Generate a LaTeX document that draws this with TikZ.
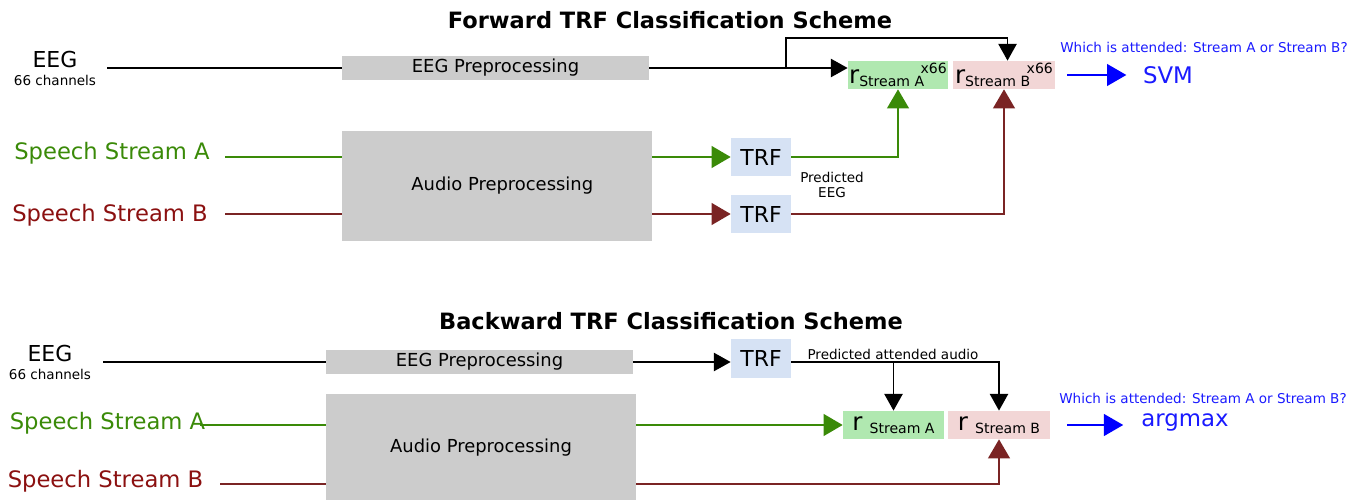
\documentclass[tikz,border=0pt]{standalone}
\usepackage{fontspec}
\setmainfont{DejaVu Sans}
\usepackage{tikz}
\usetikzlibrary{arrows.meta, positioning, calc}

\definecolor{prefill}{HTML}{CCCCCC}
\definecolor{trffill}{HTML}{D6E2F4}
\definecolor{rafill}{HTML}{B0E8B0}
\definecolor{rbfill}{HTML}{F2D6D6}
\definecolor{sagreen}{HTML}{3A8A08}
\definecolor{sbred}{HTML}{8B1010}
\definecolor{sbline}{HTML}{7A2424}
\definecolor{qblue}{HTML}{1A1AFF}

% r com indice (e expoente opcional)
\newcommand{\rsub}[2]{{\fontsize{14}{14}\selectfont r}#2\raisebox{-1.8pt}{\fontsize{8}{9}\selectfont Stream #1}}
\newcommand{\rsup}{\kern-2pt\raisebox{5.2pt}{\fontsize{8}{9}\selectfont x66}}

\begin{document}
\begin{tikzpicture}[x=0.02cm, y=-0.02cm,
  fbig/.style={font=\fontsize{12.5}{14}\selectfont},
  fspeech/.style={font=\fontsize{12.9}{15}\selectfont},
  fmed/.style={font=\fontsize{10.2}{12}\selectfont},
  fsmall/.style={font=\fontsize{7.7}{9}\selectfont},
  ftitle/.style={font=\fontsize{12.8}{15}\selectfont\bfseries},
  prebox/.style={fill=prefill, inner sep=0pt, minimum width=6.14cm, minimum height=0.48cm, fmed},
  audbox/.style={fill=prefill, inner sep=0pt, minimum width=6.2cm, fmed},
  trfbox/.style={fill=trffill, inner sep=0pt, minimum width=1.2cm, minimum height=0.78cm, fbig},
  rbox/.style={fill=#1, inner sep=0pt, minimum width=2.02cm, minimum height=0.56cm},
  blackarr/.style={line width=1.1pt, -{Triangle[length=9.6pt,width=10.4pt]}},
  greenarr/.style={line width=0.9pt, sagreen, -{Triangle[length=10.8pt,width=12.4pt]}},
  redarr/.style={line width=0.9pt, sbline, -{Triangle[length=10.8pt,width=12.4pt]}},
  bluearr/.style={line width=1.1pt, blue, -{Triangle[length=11pt,width=12.4pt]}}
]
  \useasboundingbox (0,0) rectangle (1359,500);

  % ---------- forward ----------
  \node[ftitle] (fttl) at (670,20) {Forward TRF Classification Scheme};
  \node[fbig] (feeg) at (55,60) {EEG};
  \node[fsmall] (fch) at (55,80) {66 channels};
  \node[fspeech,sagreen] (fsa) at (112,153) {Speech Stream A};
  \node[fspeech,sbred] (fsb) at (110,215) {Speech Stream B};
  \coordinate (feeg-o) at (107,68);
  \coordinate (fsa-o) at (225,157);
  \coordinate (fsb-o) at (225,214);
  \coordinate (fbr) at (786,68);

  \node[prebox] (fpre) at (495.5,68) {EEG Preprocessing};
  \node[audbox, minimum height=2.2cm] (faud) at (497,186) {\hspace{6pt}Audio Preprocessing};
  \node[trfbox] (ftrfa) at (761,157) {TRF};
  \node[trfbox] (ftrfb) at (761,214) {TRF};
  \node[rbox=rafill, minimum width=2.0cm] (fra) at (898,75) {\rsub{A}{}\rsup};
  \node[rbox=rbfill, minimum width=2.04cm] (frb) at (1004,75) {\rsub{B}{}\rsup};
  \node[fsmall,align=center] (fpred) at (832,185) {Predicted\\EEG};
  \node[font=\fontsize{13}{15}\selectfont,qblue] (fsvm) at (1168,75) {SVM};
  \node[fsmall,qblue] (fq) at (1204,47) {Which is attended: Stream A or Stream B?};

  \draw[line width=1.1pt] (feeg-o) -- (fpre.west);
  \draw[blackarr] (fpre.east) -- (fpre.east -| fra.west);
  \draw[blackarr] (fbr) -- ++(0,-30) -| ([xshift=2pt]frb.north);
  \draw[line width=0.9pt,sagreen] (fsa-o) -- (fsa-o -| faud.west);
  \draw[line width=0.9pt,sbline] (fsb-o) -- (fsb-o -| faud.west);
  \draw[greenarr] (faud.east |- ftrfa) -- (ftrfa.west);
  \draw[redarr] (faud.east |- ftrfb) -- (ftrfb.west);
  \draw[greenarr] (ftrfa.east) -| (fra.south);
  \draw[redarr] (ftrfb.east) -| (frb.south);
  \draw[bluearr, shorten <=6.8pt, shorten >=6pt] (frb.east) -- (frb.east -| fsvm.west);

  % ---------- backward ----------
  \node[ftitle] (bttl) at (671,321) {Backward TRF Classification Scheme};
  \node[fbig] (beeg) at (50,354) {EEG};
  \node[fsmall] (bch) at (50,374) {66 channels};
  \node[fspeech,sagreen] (bsa) at (107.5,423) {Speech Stream A};
  \node[fspeech,sbred] (bsb) at (105.5,481) {Speech Stream B};
  \coordinate (beeg-o) at (103,362);
  \coordinate (bsa-o) at (200,425);
  \coordinate (bsb-o) at (220,484);

  \node[prebox] (bpre) at (479.5,362) {EEG Preprocessing};
  \node[audbox, minimum height=2.16cm] (baud) at (481,448) {Audio Preprocessing};
  \node[trfbox] (btrf) at (761,358.5) {TRF};
  \node[rbox=rafill] (bra) at (893.5,425) {\rsub{A}{\hspace{4pt}}};
  \node[rbox=rbfill, minimum width=2.04cm] (brb) at (999,425) {\rsub{B}{\hspace{4pt}}};
  \node[fsmall] (bpred) at (893,354) {Predicted attended audio};
  \node[font=\fontsize{13}{15}\selectfont,qblue] (barg) at (1185,422) {argmax};
  \node[fsmall,qblue] (bq) at (1203,398) {Which is attended: Stream A or Stream B?};

  \draw[line width=1.1pt] (beeg-o) -- (bpre.west);
  \draw[blackarr] (bpre.east) -- (bpre.east -| btrf.west);
  \draw[blackarr] (btrf.east |- bpre) -| (brb.north);
  \draw[blackarr] (bra.north |- bpre) -- (bra.north);
  \draw[line width=0.9pt,sagreen] (bsa-o) -- (bsa-o -| baud.west);
  \draw[line width=0.9pt,sbline] (bsb-o) -- (bsb-o -| baud.west);
  \draw[greenarr] (baud.east |- bra) -- (bra.west);
  \draw[redarr] (baud.east |- bsb-o) -| (brb.south);
  \draw[bluearr, shorten <=9.6pt, shorten >=6.8pt] (brb.east) -- (brb.east -| barg.west);
\end{tikzpicture}
\end{document}
